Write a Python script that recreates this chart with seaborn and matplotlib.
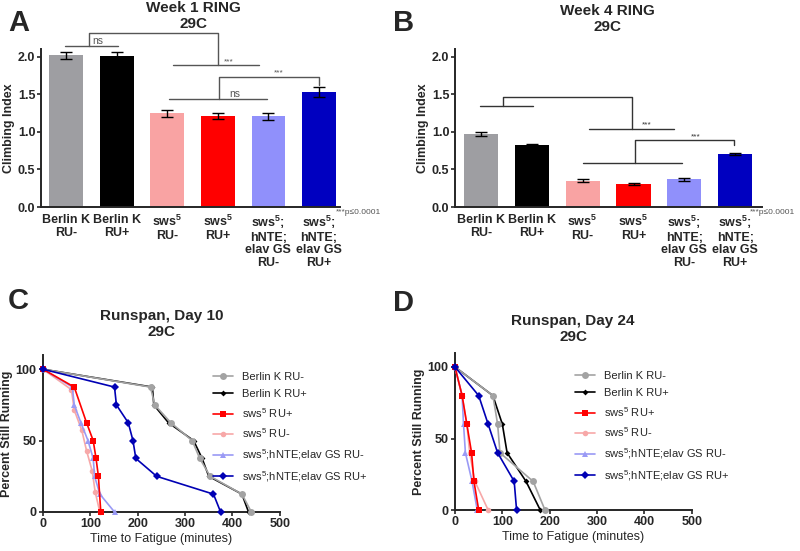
import matplotlib
matplotlib.use('Agg')
import numpy as np
import pandas as pd
import matplotlib.pyplot as plt
import seaborn as sns

sns.set_style('ticks')
plt.rcParams['font.family'] = ['Liberation Sans', 'DejaVu Sans']
plt.rcParams['mathtext.default'] = 'regular'

#%%
# climbing index (bars)
groups = ['Berlin K\nRU-', 'Berlin K\nRU+', 'sws$^5$\nRU-', 'sws$^5$\nRU+',
          'sws$^5$;\nhNTE;\nelav GS\nRU-', 'sws$^5$;\nhNTE;\nelav GS\nRU+']
bar_colors = ['#9e9ea2', '#000000', '#f9a3a3', '#ff0000', '#9090fb', '#0000c0']
week1_mean = [2.02, 2.01, 1.25, 1.21, 1.21, 1.53]
week1_sem = [0.05, 0.05, 0.045, 0.04, 0.045, 0.065]
week4_mean = [0.97, 0.82, 0.35, 0.31, 0.37, 0.71]
week4_sem = [0.03, 0.02, 0.02, 0.015, 0.018, 0.015]

# runspan curves (minutes, percent still running)
series_names = ['Berlin K RU-', 'Berlin K RU+', 'sws$^5$ RU+', 'sws$^5$ RU-',
                'sws$^5$;hNTE;elav GS RU-', 'sws$^5$;hNTE;elav GS RU+']
day10_time = [
    [0, 227, 236, 270, 315, 331, 353, 420, 440],
    [0, 231, 234, 265, 318, 336, 350, 420, 434],
    [0, 66, 92, 106, 112, 117, 122],
    [0, 60, 66, 82, 92, 104, 110, 120],
    [0, 62, 66, 80, 95, 106, 109, 120, 151],
    [0, 151, 155, 180, 190, 196, 240, 360, 375],
]
day10_pct = [
    [100, 87.5, 75, 62.5, 50, 37.5, 25, 12.5, 0],
    [100, 87.5, 75, 62.5, 50, 37.5, 25, 12.5, 0],
    [100, 87.5, 62.5, 50, 37.5, 25, 0],
    [100, 85.7, 71.4, 57.1, 42.9, 28.6, 14.3, 0],
    [100, 87.5, 75, 62.5, 50, 37.5, 25, 12.5, 0],
    [100, 87.5, 75, 62.5, 50, 37.5, 25, 12.5, 0],
]
day24_time = [
    [0, 80, 90, 95, 165, 190],
    [0, 80, 100, 110, 150, 180],
    [0, 15, 25, 35, 40, 50],
    [0, 15, 25, 31, 42, 70],
    [0, 15, 18, 22, 36, 47],
    [0, 50, 70, 90, 125, 130],
]
day24_pct = [
    [100, 80, 60, 40, 20, 0],
    [100, 80, 60, 40, 20, 0],
    [100, 80, 60, 40, 20, 0],
    [100, 80, 60, 40, 20, 0],
    [100, 80, 60, 40, 20, 0],
    [100, 80, 60, 40, 20, 0],
]
line_colors = ['#a3a3a3', '#000000', '#ff0000', '#f7a8a8', '#9a9af5', '#0000b4']
line_markers = ['o', 'D', 's', 'o', '^', 'D']
marker_sizes = [5, 3, 5, 4, 4.5, 3.6]
line_z = [4, 3, 6, 4, 5, 7]

#%%
fig = plt.figure(figsize=(8, 5.51), dpi=100)
axA = fig.add_axes([0.05125, 0.6243, 0.374, 0.2862])
axB = fig.add_axes([0.56875, 0.6243, 0.384, 0.2862])
axC = fig.add_axes([0.05375, 0.0708, 0.296, 0.285])
axD = fig.add_axes([0.56875, 0.0744, 0.296, 0.2855])


def bar_panel(ax, means, sems, xlim):
    df = pd.DataFrame({'group': groups, 'ci': means})
    sns.barplot(data=df, x='group', y='ci', hue='group', palette=bar_colors,
                legend=False, ax=ax, width=0.67, saturation=1, errorbar=None,
                linewidth=0)
    ax.errorbar(np.arange(len(means)), means, yerr=sems, fmt='none',
                ecolor='black', elinewidth=1, capsize=4, capthick=1)
    ax.set_ylim(0, 2.1)
    ax.set_xlim(*xlim)
    ax.set_yticks([0, 0.5, 1.0, 1.5, 2.0])
    ax.set_yticklabels(['0.0', '0.5', '1.0', '1.5', '2.0'], fontweight='bold', fontsize=9)
    ax.set_xticks(range(len(groups)))
    ax.set_xticklabels(groups, fontweight='bold', fontsize=9, linespacing=1.07)
    ax.tick_params(axis='x', length=0, pad=5)
    ax.tick_params(axis='y', length=3, width=1.2, pad=1)
    ax.set_xlabel('')
    ax.set_ylabel('Climbing Index', fontweight='bold', fontsize=9, labelpad=2)
    sns.despine(ax=ax)
    for s in ['left', 'bottom']:
        ax.spines[s].set_linewidth(1.4)


def bracket(ax, x0, x1, y, color):
    ax.plot([x0, x1], [y, y], color=color, lw=1, clip_on=False)


bar_panel(axA, week1_mean, week1_sem, (-0.5, 5.42))
bar_panel(axB, week4_mean, week4_sem, (-0.51, 5.53))

# significance brackets, panel A
ca = '#555555'
bracket(axA, -0.02, 1.02, 2.15, ca)
axA.plot([0.45, 0.45, 3.0, 3.0], [2.15, 2.32, 2.32, 1.89], color=ca, lw=1, clip_on=False)
bracket(axA, 2.12, 3.82, 1.89, ca)
axA.text(0.52, 2.17, 'ns', fontsize=7.5, color=ca)
axA.text(3.12, 1.91, '***', fontsize=6, color=ca)
bracket(axA, 2.04, 3.97, 1.44, ca)
axA.plot([3.02, 3.02, 5.0, 5.0], [1.44, 1.73, 1.73, 1.63], color=ca, lw=1)
axA.text(3.22, 1.46, 'ns', fontsize=7.5, color=ca)
axA.text(4.1, 1.76, '***', fontsize=6, color=ca)

# significance brackets, panel B
cb = '#333333'
bracket(axB, -0.02, 1.02, 1.35, cb)
axB.plot([0.43, 0.43, 2.97, 2.97], [1.35, 1.47, 1.47, 1.04], color=cb, lw=1)
bracket(axB, 2.13, 3.8, 1.04, cb)
axB.text(3.17, 1.07, '***', fontsize=6, color=cb)
bracket(axB, 2.0, 3.96, 0.585, cb)
axB.plot([3.03, 3.03, 4.98, 4.98], [0.585, 0.89, 0.89, 0.83], color=cb, lw=1)
axB.text(4.12, 0.91, '***', fontsize=6, color=cb)

for xp in [336 / 800, 750 / 800]:
    fig.text(xp, 1 - 212 / 551, '***p\u22640.0001', fontsize=6, color='#555555', va='center')


def run_panel(ax, times, pcts, legend_anchor):
    for i in range(len(series_names)):
        df = pd.DataFrame({'t': times[i], 'p': pcts[i]})
        sns.lineplot(data=df, x='t', y='p', ax=ax, color=line_colors[i],
                     marker=line_markers[i], markersize=marker_sizes[i],
                     markeredgewidth=0, linewidth=1.2, sort=False, estimator=None,
                     label=series_names[i], zorder=line_z[i], clip_on=False)
    ax.set_xlim(0, 500)
    ax.set_ylim(0, 110)
    ax.set_xticks([0, 100, 200, 300, 400, 500])
    ax.set_xticklabels(['0', '100', '200', '300', '400', '500'], fontweight='bold', fontsize=9)
    ax.set_yticks([0, 50, 100])
    ax.set_yticklabels(['0', '50', '100'], fontweight='bold', fontsize=9)
    ax.tick_params(length=3, width=1.2, pad=1.5)
    ax.set_xlabel('Time to Fatigue (minutes)', fontsize=9, labelpad=2)
    ax.set_ylabel('Percent Still Running', fontweight='bold', fontsize=9, labelpad=2)
    sns.despine(ax=ax)
    for s in ['left', 'bottom']:
        ax.spines[s].set_linewidth(1.4)
    ax.legend(loc='upper left', bbox_to_anchor=legend_anchor,
              bbox_transform=fig.transFigure, frameon=False, fontsize=8,
              handlelength=1.8, handletextpad=0.8, labelspacing=0.62,
              borderaxespad=0, borderpad=0)


run_panel(axC, day10_time, day10_pct, (213 / 800, 1 - 372 / 551))
run_panel(axD, day24_time, day24_pct, (575 / 800, 1 - 371 / 551))

# titles and panel letters
fig.text(193 / 800, 1 - 16 / 551, 'Week 1 RING\n29C', ha='center', va='center',
         fontsize=11, fontweight='bold', linespacing=1.15)
fig.text(607 / 800, 1 - 19 / 551, 'Week 4 RING\n29C', ha='center', va='center',
         fontsize=11, fontweight='bold', linespacing=1.15)
fig.text(162 / 800, 1 - 324 / 551, 'Runspan, Day 10\n29C', ha='center', va='center',
         fontsize=11, fontweight='bold', linespacing=1.15)
fig.text(573 / 800, 1 - 329 / 551, 'Runspan, Day 24\n29C', ha='center', va='center',
         fontsize=11, fontweight='bold', linespacing=1.15)
for lx, ly, letter in [(8, 23, 'A'), (393, 23, 'B'), (8, 301, 'C'), (393, 303, 'D')]:
    fig.text(lx / 800, 1 - ly / 551, letter, fontsize=21, fontweight='bold', va='center')

fig.savefig('out.png', dpi=100)
